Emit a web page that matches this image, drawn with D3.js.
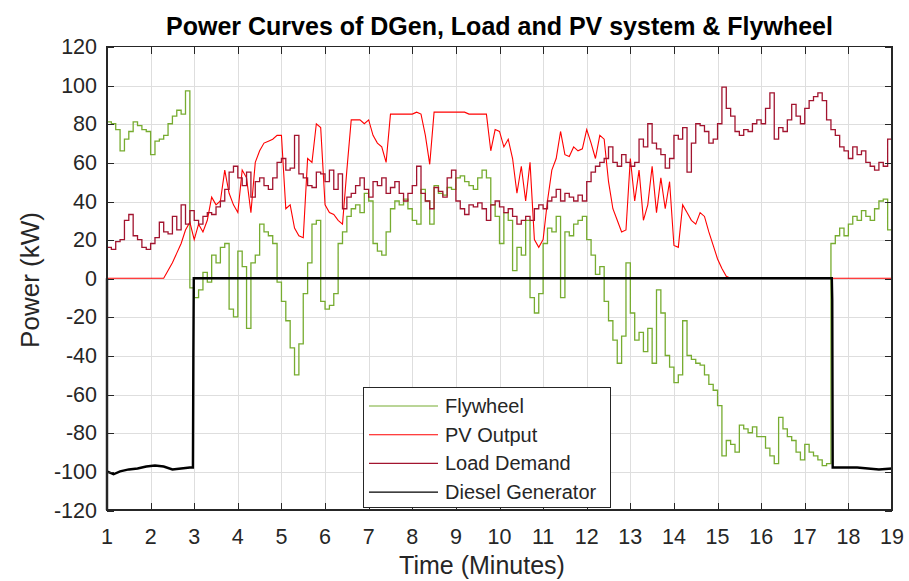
<!DOCTYPE html>
<meta charset="utf-8">
<style>
  body { margin: 0; background: #fff; }
  text { font-family: "Liberation Sans", Arial, sans-serif; fill: #262626; }
  .grid line { stroke: #dedede; stroke-width: 1; shape-rendering: crispEdges; }
  .tick-mark { stroke: #262626; stroke-width: 1; shape-rendering: crispEdges; }
  .frame { fill: none; stroke: #262626; stroke-width: 1.2; shape-rendering: crispEdges; }
  .series { fill: none; stroke-linejoin: miter; }
  .legend-box { fill: #fff; stroke: #262626; stroke-width: 1; shape-rendering: crispEdges; }
</style>
<body>
<div id="chart"></div>
<script src="https://d3js.org/d3.v7.min.js"></script>
<script>
// sample grid: one reading every 0.1 minute, 1.0 ... 19.0
var minutes = d3.range(0, 181).map(function(i) { return 1 + i / 10; });

// Flywheel (kW), one row per minute (m.0 ... m.9)
var flywheel = [
  0, 81, 80, 77, 66, 72, 76, 81, 79, 77,
  76, 64, 71, 72, 74, 80, 84, 87, 85, 97,
  -5, -10, -6, 3, -2, 12, 8, 16, 18, -16,
  -20, 14, 6, -26, 8, 12, 28, 24, 22, 18,
  -2, -12, -22, -36, -50, -34, -8, 8, 28, 30,
  -12, -16, -14, -8, 18, 24, 32, 36, 38, 34,
  44, 40, 18, 14, 12, 24, 36, 40, 38, 41,
  36, 30, 28, 46, 40, 28, 48, 44, 43, 47,
  46, 52, 53, 50, 48, 46, 52, 56, 52, 38,
  32, 18, 34, 30, 4, 16, 12, 30, -10, -18,
  -8, 18, 26, 24, 32, -10, 24, 22, 28, 30,
  32, 20, 12, 2, 6, -12, -22, -32, -44, -30,
  8, -18, -32, -28, -38, -26, -44, -6, -18, -40,
  -46, -54, -50, -22, -40, -42, -44, -45, -50, -55,
  -58, -66, -92, -84, -86, -90, -76, -78, -80, -77,
  -82, -82, -88, -92, -96, -72, -78, -82, -84, -90,
  -94, -86, -90, -92, -94, -97, -96, 18, 22, 26,
  22, 28, 32, 30, 35, 32, 30, 36, 40, 41,
  25
];

// PV Output (kW)
var pvOutput = [
  0, 0, 0, 0, 0, 0, 0, 0, 0, 0,
  0, 0, 0, 0, 4, 8, 13, 18, 25, 29,
  20, 28, 24, 30, 42, 38, 40, 56, 44, 38,
  34, 56, 52, 34, 60, 66, 70, 71, 72, 74,
  74, 36, 38, 26, 22, 21, 62, 60, 80, 78,
  38, 34, 33, 30, 28, 56, 82, 82, 82, 80,
  82, 74, 70, 68, 60, 85, 85, 85, 85, 85,
  85, 86, 85, 74, 59, 86, 86, 86, 86, 86,
  86, 86, 86, 85, 85, 85, 85, 85, 66, 77,
  76, 68, 72, 62, 44, 58, 40, 60, 20, 16,
  20, 40, 56, 62, 76, 64, 63, 68, 66, 67,
  77, 70, 62, 74, 72, 50, 36, 30, 24, 25,
  62, 40, 56, 30, 38, 58, 34, 52, 36, 50,
  17, 16, 38, 34, 30, 28, 34, 32, 24, 17,
  10, 5, 1, 0, 0, 0, 0, 0, 0, 0,
  0, 0, 0, 0, 0, 0, 0, 0, 0, 0,
  0, 0, 0, 0, 0, 0, 0, 0, 0, 0,
  0, 0, 0, 0, 0, 0, 0, 0, 0, 0,
  0
];

// Load Demand (kW)
var loadDemand = [
  17, 16, 15, 19, 20, 30, 33, 22, 20, 16,
  15, 18, 21, 29, 24, 23, 32, 25, 38, 28,
  35, 30, 28, 32, 34, 33, 37, 40, 46, 55,
  58, 52, 48, 55, 42, 50, 52, 48, 46, 52,
  60, 62, 56, 57, 74, 54, 52, 48, 47, 55,
  54, 50, 56, 46, 54, 36, 42, 44, 48, 52,
  46, 42, 50, 48, 52, 44, 47, 50, 44, 40,
  44, 48, 58, 44, 40, 36, 47, 45, 42, 52,
  56, 40, 36, 33, 38, 37, 39, 36, 30, 38,
  40, 37, 34, 36, 32, 28, 30, 32, 30, 36,
  38, 36, 40, 42, 46, 40, 44, 42, 40, 43,
  40, 50, 55, 58, 60, 62, 68, 60, 58, 64,
  60, 58, 60, 72, 68, 80, 70, 67, 64, 57,
  62, 74, 72, 78, 55, 70, 80, 79, 76, 70,
  72, 80, 99, 88, 84, 76, 74, 77, 76, 80,
  82, 80, 88, 96, 72, 78, 76, 82, 90, 84,
  80, 88, 92, 94, 96, 92, 82, 77, 74, 68,
  66, 62, 68, 64, 66, 60, 58, 56, 60, 58,
  72
];

// Diesel Generator (kW), sampled at its switching instants
var dgenTime  = [1, 1, 1, 1.15, 1.3, 1.5, 1.7, 1.9, 2.1, 2.3, 2.5, 2.7, 2.9, 2.97, 2.98, 2.99, 17.62, 17.63, 17.64, 18.2, 18.7, 19];
var dgenPower = [0, -120, -100, -101.5, -100, -99, -98.5, -97.5, -97, -97.5, -99, -98.5, -98, -98, -40, 0, 0, -11, -98, -98, -99, -98.5];

var xTicks = d3.range(1, 20);
var yTicks = d3.range(-120, 121, 20);
var legendNames = ["Flywheel", "PV Output", "Load Demand", "Diesel Generator"];
var legendColors = ["#77ac30", "#ff0000", "#a2142f", "#000000"];

var margin = {top: 46.5, right: 17, bottom: 71, left: 107},
    width = 909 - margin.left - margin.right,
    height = 581 - margin.top - margin.bottom;

var svg = d3.select("#chart")
  .append("svg")
    .attr("width", 909)
    .attr("height", 581);

var g = svg.append("g")
    .attr("transform", "translate(" + margin.left + "," + margin.top + ")");

var x = d3.scaleLinear().domain([1, 19]).range([0, width]);
var y = d3.scaleLinear().domain([-120, 120]).range([height, 0]);

// grid
var grid = g.append("g").attr("class", "grid");
grid.selectAll(".gx")
    .data(xTicks.slice(1, -1))
  .enter().append("line")
    .attr("x1", function(d) { return Math.round(x(d)) + 0.5; })
    .attr("x2", function(d) { return Math.round(x(d)) + 0.5; })
    .attr("y1", 0).attr("y2", height);
grid.selectAll(".gy")
    .data(yTicks.slice(1, -1))
  .enter().append("line")
    .attr("y1", function(d) { return Math.round(y(d)) + 0.5; })
    .attr("y2", function(d) { return Math.round(y(d)) + 0.5; })
    .attr("x1", 0).attr("x2", width);

// series
var stepLine = d3.line()
    .x(function(d, i) { return x(minutes[i]); })
    .y(function(d) { return y(d); })
    .curve(d3.curveStepBefore);

var plainLine = d3.line()
    .x(function(d, i) { return x(minutes[i]); })
    .y(function(d) { return y(d); });

var dgenLine = d3.line()
    .x(function(d, i) { return x(dgenTime[i]); })
    .y(function(d) { return y(d); });

g.append("path").datum(flywheel).attr("class", "series")
    .attr("d", stepLine).style("stroke", legendColors[0]).style("stroke-width", 1.3);
g.append("path").datum(pvOutput).attr("class", "series")
    .attr("d", plainLine).style("stroke", legendColors[1]).style("stroke-width", 1.1);
g.append("path").datum(loadDemand).attr("class", "series")
    .attr("d", stepLine).style("stroke", legendColors[2]).style("stroke-width", 1.3);
g.append("path").datum(dgenPower).attr("class", "series")
    .attr("d", dgenLine).style("stroke", legendColors[3]).style("stroke-width", 2.4);

// frame and inward ticks on all four sides
g.append("rect").attr("class", "frame")
    .attr("x", 0).attr("y", 0).attr("width", width).attr("height", height);

var tickLen = 7;
xTicks.forEach(function(t) {
  var px = Math.round(x(t)) + 0.5;
  g.append("line").attr("class", "tick-mark").attr("x1", px).attr("x2", px).attr("y1", height).attr("y2", height - tickLen);
  g.append("line").attr("class", "tick-mark").attr("x1", px).attr("x2", px).attr("y1", 0).attr("y2", tickLen);
  g.append("text")
      .attr("x", x(t)).attr("y", height + 34)
      .attr("text-anchor", "middle")
      .style("font-size", "21.5px")
      .text(t);
});
yTicks.forEach(function(v) {
  var py = Math.round(y(v)) + 0.5;
  g.append("line").attr("class", "tick-mark").attr("y1", py).attr("y2", py).attr("x1", 0).attr("x2", tickLen);
  g.append("line").attr("class", "tick-mark").attr("y1", py).attr("y2", py).attr("x1", width).attr("x2", width - tickLen);
  g.append("text")
      .attr("x", -10).attr("y", y(v) + 7.5)
      .attr("text-anchor", "end")
      .style("font-size", "21.5px")
      .text(v);
});

// labels
svg.append("text")
    .attr("x", margin.left + width / 2).attr("y", 35)
    .attr("text-anchor", "middle")
    .style("font-size", "25px").style("font-weight", "bold").style("fill", "#000")
    .text("Power Curves of DGen, Load and PV system & Flywheel");

svg.append("text")
    .attr("x", 482).attr("y", 574)
    .attr("text-anchor", "middle")
    .style("font-size", "25px")
    .text("Time (Minutes)");

svg.append("text")
    .attr("transform", "translate(39,280) rotate(-90)")
    .attr("text-anchor", "middle")
    .style("font-size", "26px")
    .text("Power (kW)");

// legend
var legend = svg.append("g").attr("transform", "translate(363,387)");
legend.append("rect").attr("class", "legend-box")
    .attr("x", 0.5).attr("y", 0.5).attr("width", 247).attr("height", 120);

var rows = legend.selectAll(".row")
    .data(legendNames)
  .enter().append("g")
    .attr("transform", function(d, i) { return "translate(0," + (19 + i * 28.7) + ")"; });

rows.append("line")
    .attr("x1", 6).attr("x2", 75).attr("y1", 0).attr("y2", 0)
    .style("stroke", function(d, i) { return legendColors[i]; })
    .style("stroke-width", function(d, i) { return i === 3 ? 1.4 : 1.1; });

rows.append("text")
    .attr("x", 82).attr("y", 7)
    .style("font-size", "20px")
    .text(function(d) { return d; });
</script>
</body>
